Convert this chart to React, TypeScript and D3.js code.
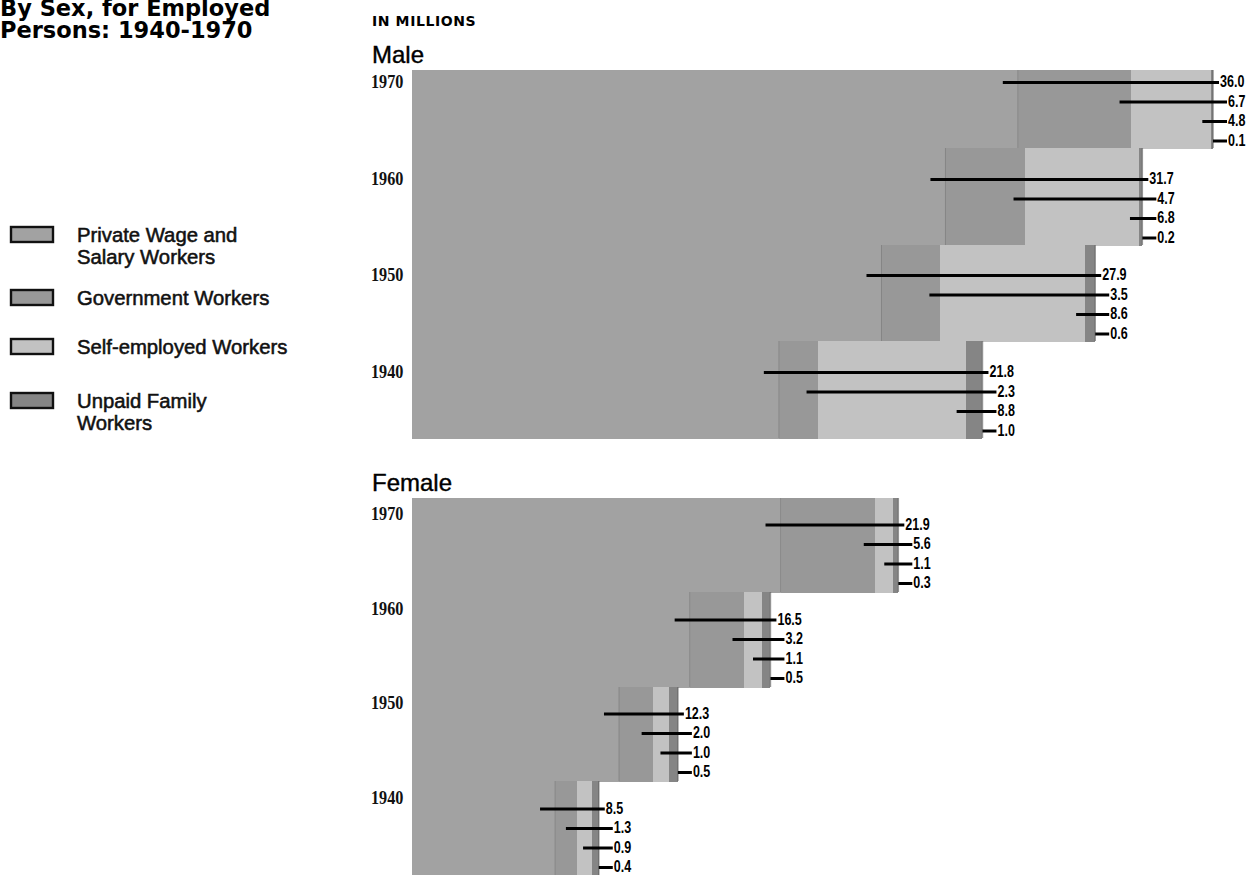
import React from "react";
import * as d3 from "d3";

const years = ["1970", "1960", "1950", "1940"];
const categories = [
  "Private Wage and Salary Workers",
  "Government Workers",
  "Self-employed Workers",
  "Unpaid Family Workers",
];
const maleValues = [
  [36.0, 6.7, 4.8, 0.1],
  [31.7, 4.7, 6.8, 0.2],
  [27.9, 3.5, 8.6, 0.6],
  [21.8, 2.3, 8.8, 1.0],
];
const femaleValues = [
  [21.9, 5.6, 1.1, 0.3],
  [16.5, 3.2, 1.1, 0.5],
  [12.3, 2.0, 1.0, 0.5],
  [8.5, 1.3, 0.9, 0.4],
];
const legendLines = [
  ["Private Wage and", "Salary Workers"],
  ["Government Workers"],
  ["Self-employed Workers"],
  ["Unpaid Family", "Workers"],
];

const W = 1258;
const H = 875;
const colors = ["#a2a2a2", "#989898", "#c2c2c2", "#858585"];
const lineInset = [15, 11, 9, 0];
const legendY = [227, 290, 339, 393];

const x = d3.scaleLinear().domain([0, 47.6]).range([412, 1213]);

const narrow = "'Liberation Sans', Arial, sans-serif";

function Panel({ values, bandRange, panelTop, labelOffset, rowBase }: any) {
  const y = d3.scaleBand().domain(years).range(bandRange).paddingInner(0).paddingOuter(0);
  const rowGap = 19.5;
  return (
    <g>
      {years.map((yr, yi) => {
        const vals: number[] = values[yi];
        const bandTop = Math.round(y(yr) as number);
        const bottom = Math.round((y(yr) as number) + y.bandwidth());
        const top = Math.max(bandTop, panelTop);
        const cum = d3.cumsum(vals);
        const total = cum[cum.length - 1];
        const edge = x(total);
        const rows = vals.map((_, i) => bottom - rowBase - (3 - i) * rowGap);
        return (
          <g key={yr}>
            {vals.map((v, i) => {
              const x0 = x(cum[i] - v);
              const x1 = x(cum[i]);
              return (
                <rect key={i} x={x0} y={top} width={Math.max(0, x1 - x0) + (i < 3 ? 0.5 : 0)} height={bottom - top + 1} fill={colors[i]} shapeRendering="crispEdges" />
              );
            })}
            <line x1={x(cum[0])} x2={x(cum[0])} y1={top} y2={bottom} stroke="#707070" strokeWidth={1} opacity={0.45} />
            <line x1={edge} x2={edge} y1={top} y2={bottom} stroke="#666" strokeWidth={1.5} opacity={0.7} />
            <text transform={`translate(371,${rows[0] + labelOffset}) scale(0.9,1)`} dominantBaseline="middle" fontFamily="'Liberation Serif', serif" fontWeight="bold" fontSize={18} fill="#111">
              {yr}
            </text>
            {vals.map((v, i) => {
              const lx = edge + (i === 0 ? 7 : 15);
              const startX = i === 3 ? edge : x(cum[i]) - lineInset[i];
              return (
                <g key={"l" + i}>
                  <line x1={startX} x2={lx - 1} y1={rows[i]} y2={rows[i]} stroke="#000" strokeWidth={3} />
                  <text transform={`translate(${lx},${rows[i] + 0.5}) scale(0.76,1)`} dominantBaseline="middle" fontFamily={narrow} fontWeight="bold" fontSize={16.5} fill="#000">
                    {v.toFixed(1)}
                  </text>
                </g>
              );
            })}
          </g>
        );
      })}
    </g>
  );
}

export default function App() {
  return (
    <svg width={W} height={H} style={{ position: "absolute", left: 0, top: 0, background: "#fff" }}>
      <rect width={W} height={H} fill="#fff" />
      <g fontFamily="'DejaVu Sans', sans-serif" fontWeight="bold" fontSize={22.5} fill="#000">
        <text x={0} y={16}>By Sex, for Employed</text>
        <text x={0} y={38}>Persons: 1940-1970</text>
      </g>
      <text x={372} y={26} fontFamily="'DejaVu Sans', sans-serif" fontWeight="bold" fontSize={14} letterSpacing={0.6}>
        IN MILLIONS
      </text>
      <text x={372} y={63} fontFamily="'Liberation Sans', Arial, sans-serif" fontSize={24} stroke="#000" strokeWidth={0.4}>
        Male
      </text>
      <text x={372} y={491} fontFamily="'Liberation Sans', Arial, sans-serif" fontSize={24} stroke="#000" strokeWidth={0.4}>
        Female
      </text>
      <Panel values={maleValues} bandRange={[51, 438]} panelTop={70} labelOffset={1} rowBase={7} />
      <Panel values={femaleValues} bandRange={[497, 876]} panelTop={498} labelOffset={-9} rowBase={8.5} />
      <g>
        {categories.map((c, i) => (
          <g key={c}>
            <rect x={11} y={legendY[i]} width={42} height={15} fill={colors[i]} stroke="#111" strokeWidth={2.4} />
            {legendLines[i].map((t, j) => (
              <text key={j} transform={`translate(77,${legendY[i] + 15 + j * 21.5}) scale(0.99,1)`} fontFamily={narrow} fontSize={20.5} fill="#111" stroke="#111" strokeWidth={0.55}>
                {t}
              </text>
            ))}
          </g>
        ))}
      </g>
    </svg>
  );
}
